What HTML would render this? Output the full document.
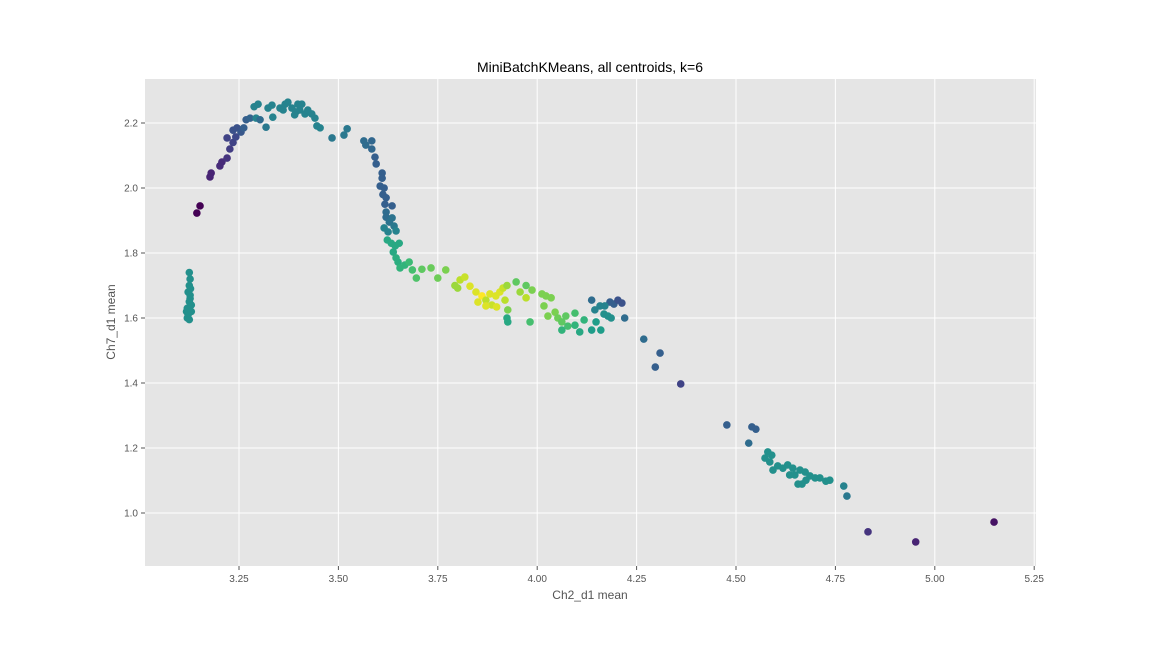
<!DOCTYPE html>
<html><head><meta charset="utf-8"><style>
body{margin:0;background:#fff;font-family:"Liberation Sans",sans-serif}
svg{display:block}
</style></head><body>
<svg id="chart" width="1152" height="648">
<rect x="145" y="79" width="891" height="487" fill="#e5e5e5"/>
<g id="grid"></g>
<g id="pts"></g>
<g id="ticks"></g>
<text x="590" y="72" text-anchor="middle" font-size="14" fill="#000">MiniBatchKMeans, all centroids, k=6</text>
<text x="590" y="599" text-anchor="middle" font-size="12" fill="#555">Ch2_d1 mean</text>
<text x="115" y="322" text-anchor="middle" font-size="12" fill="#555" transform="rotate(-90 115 322)">Ch7_d1 mean</text>
</svg>
<script>
const xTicks=[3.25,3.50,3.75,4.00,4.25,4.50,4.75,5.00,5.25];
const yTicks=[1.0,1.2,1.4,1.6,1.8,2.0,2.2];
const xVals=[3.125,3.127,3.125,3.122,3.127,3.125,3.12,3.13,3.118,3.122,3.12,3.125,3.128,3.127,3.13,
3.144,3.152,3.177,3.18,3.202,3.207,3.22,3.22,3.227,3.235,3.242,3.235,3.245,3.255,3.262,3.268,3.278,3.288,3.298,3.293,3.303,3.318,3.323,3.333,3.335,
3.353,3.366,3.373,3.383,3.393,3.398,3.403,3.408,3.416,3.423,3.433,3.441,3.446,3.454,3.361,3.39,
3.484,3.514,3.522,3.564,3.569,3.584,3.584,3.592,3.595,3.61,3.61,3.605,3.615,3.612,3.62,3.617,3.635,3.62,3.62,3.628,3.635,3.64,3.615,3.625,3.645,
3.623,3.633,3.643,3.653,3.638,3.645,3.65,3.655,3.667,3.678,3.686,3.696,3.71,3.733,3.75,3.77,
3.806,3.818,3.8,3.793,3.831,3.846,3.861,3.871,3.881,3.886,3.896,3.906,3.914,3.924,3.919,3.926,3.924,3.926,3.871,3.851,3.982,3.947,3.972,3.987,3.957,3.972,3.898,
4.012,4.022,4.035,4.017,4.027,4.045,4.052,4.062,4.072,4.077,4.062,4.095,4.107,4.095,4.118,4.148,4.16,4.137,
4.137,4.145,4.158,4.168,4.178,4.186,4.183,4.193,4.203,4.213,4.22,4.17,
4.268,4.309,4.297,4.361,4.477,4.54,4.55,4.532,
4.573,4.58,4.59,4.585,4.593,4.605,4.618,4.63,4.643,4.648,4.661,4.674,4.666,4.676,4.686,4.699,4.711,4.726,4.736,4.771,4.779,4.635,4.656,
4.832,4.952,5.149];
const yVals=[1.74,1.72,1.70,1.68,1.66,1.65,1.63,1.64,1.62,1.61,1.60,1.595,1.69,1.67,1.62,
1.923,1.945,2.034,2.046,2.068,2.08,2.092,2.154,2.12,2.14,2.157,2.178,2.185,2.172,2.185,2.21,2.215,2.25,2.258,2.215,2.21,2.187,2.246,2.255,2.218,
2.246,2.258,2.264,2.246,2.234,2.258,2.24,2.258,2.228,2.24,2.228,2.215,2.191,2.185,2.24,2.225,
2.154,2.163,2.182,2.145,2.132,2.145,2.12,2.095,2.074,2.046,2.03,2.006,2.0,1.98,1.97,1.95,1.945,1.926,1.91,1.895,1.908,1.883,1.877,1.865,1.868,
1.84,1.83,1.822,1.83,1.803,1.785,1.772,1.754,1.763,1.772,1.748,1.723,1.75,1.754,1.723,1.748,
1.717,1.726,1.692,1.70,1.698,1.68,1.668,1.655,1.674,1.64,1.668,1.68,1.692,1.70,1.655,1.625,1.6,1.588,1.637,1.649,1.588,1.711,1.70,1.686,1.68,1.662,1.634,
1.674,1.668,1.662,1.637,1.606,1.618,1.6,1.588,1.606,1.575,1.563,1.578,1.557,1.615,1.594,1.588,1.563,1.563,
1.655,1.625,1.637,1.612,1.606,1.6,1.649,1.643,1.655,1.646,1.6,1.637,
1.535,1.492,1.449,1.397,1.271,1.265,1.258,1.215,
1.169,1.188,1.178,1.157,1.132,1.145,1.138,1.148,1.138,1.117,1.132,1.126,1.089,1.101,1.114,1.108,1.108,1.098,1.101,1.083,1.052,1.117,1.089,
0.942,0.911,0.972];
const cVals=[0.5,0.5,0.5,0.5,0.5,0.5,0.5,0.5,0.5,0.5,0.5,0.5,0.5,0.5,0.5,
0,0,0.1,0.1,0.12,0.12,0.15,0.2,0.18,0.2,0.22,0.25,0.25,0.27,0.3,0.3,0.32,0.45,0.45,0.45,0.35,0.4,0.45,0.45,0.45,
0.45,0.45,0.45,0.45,0.45,0.45,0.45,0.45,0.45,0.45,0.45,0.45,0.45,0.45,0.45,0.45,
0.4,0.4,0.4,0.35,0.35,0.33,0.33,0.3,0.3,0.3,0.3,0.3,0.3,0.3,0.3,0.3,0.3,0.35,0.35,0.38,0.38,0.4,0.45,0.45,0.45,
0.6,0.6,0.6,0.6,0.6,0.62,0.62,0.65,0.65,0.68,0.7,0.72,0.75,0.77,0.78,0.8,
0.9,0.92,0.85,0.85,0.95,0.95,1,0.9,0.95,0.92,0.95,0.95,0.92,0.85,0.9,0.8,0.6,0.6,0.95,0.95,0.7,0.75,0.75,0.8,0.85,0.9,0.95,
0.8,0.8,0.8,0.8,0.8,0.8,0.78,0.75,0.75,0.7,0.65,0.65,0.6,0.7,0.65,0.55,0.55,0.55,
0.35,0.45,0.45,0.5,0.5,0.5,0.3,0.3,0.25,0.25,0.35,0.45,
0.35,0.3,0.3,0.2,0.3,0.3,0.3,0.35,
0.5,0.5,0.5,0.5,0.5,0.5,0.5,0.5,0.5,0.5,0.5,0.5,0.5,0.5,0.5,0.5,0.5,0.5,0.5,0.45,0.4,0.5,0.5,
0.15,0.1,0.05];
const NS="http://www.w3.org/2000/svg";
const X0=145,X1=1036,Y0=79,Y1=566;
function xs(v){return 239+(v-3.25)*397.6;}
function ys(v){return 513-(v-1.0)*325;}
const stops=[[68,1,84],[72,40,120],[62,74,137],[49,104,142],[38,130,142],[31,158,137],[53,183,121],[109,205,89],[180,222,44],[253,231,37]];
function vir(t){t=Math.max(0,Math.min(1,t))*(stops.length-1);const i=Math.min(Math.floor(t),stops.length-2),f=t-i;const a=stops[i],b=stops[i+1];return `rgb(${a.map((v,k)=>Math.round(v+(b[k]-v)*f)).join(',')})`;}
const grid=document.getElementById('grid'),tk=document.getElementById('ticks'),pts=document.getElementById('pts');
xTicks.forEach(t=>{const x=xs(t);
const l=document.createElementNS(NS,'line');l.setAttribute('x1',x);l.setAttribute('x2',x);l.setAttribute('y1',Y0);l.setAttribute('y2',Y1);l.setAttribute('stroke','#fff');


grid.appendChild(l);
const m=document.createElementNS(NS,'line');m.setAttribute('x1',x);m.setAttribute('x2',x);m.setAttribute('y1',Y1);m.setAttribute('y2',Y1+4);m.setAttribute('stroke','#555');tk.appendChild(m);
const s=document.createElementNS(NS,'text');s.setAttribute('x',x);s.setAttribute('y',Y1+16);s.setAttribute('text-anchor','middle');s.setAttribute('font-size','10');s.setAttribute('fill','#555');s.textContent=t.toFixed(2);


tk.appendChild(s);});
yTicks.forEach(t=>{const y=ys(t);
const l=document.createElementNS(NS,'line');l.setAttribute('x1',X0);l.setAttribute('x2',X1);l.setAttribute('y1',y);l.setAttribute('y2',y);l.setAttribute('stroke','#fff');


grid.appendChild(l);
const m=document.createElementNS(NS,'line');m.setAttribute('x1',X0-4);m.setAttribute('x2',X0);m.setAttribute('y1',y);m.setAttribute('y2',y);m.setAttribute('stroke','#555');tk.appendChild(m);
const s=document.createElementNS(NS,'text');s.setAttribute('x',X0-7);s.setAttribute('y',y+3.5);s.setAttribute('text-anchor','end');s.setAttribute('font-size','10');s.setAttribute('fill','#555');s.textContent=t.toFixed(1);


tk.appendChild(s);});
xVals.forEach((v,i)=>{const c=document.createElementNS(NS,'circle');c.setAttribute('cx',xs(v));c.setAttribute('cy',ys(yVals[i]));c.setAttribute('r',3.8);c.setAttribute('fill',vir(cVals[i]));


pts.appendChild(c);});
</script>
</body></html>
